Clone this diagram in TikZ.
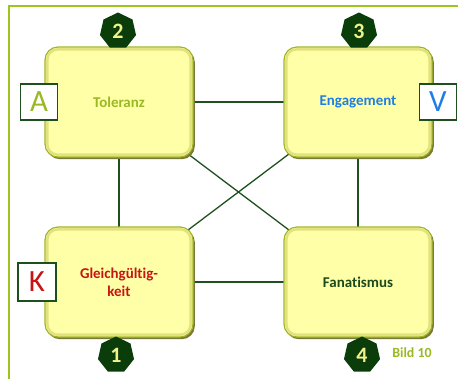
\documentclass[tikz,border=0pt]{standalone}
\usepackage{fontspec}
\setmainfont[Ligatures=NoCommon]{Carlito}
\usetikzlibrary{shapes.geometric,backgrounds,shadows}

\definecolor{framegreen}{HTML}{9EC41E}
\definecolor{linkgreen}{HTML}{1E501E}
\definecolor{panelfill}{HTML}{FFFFA8}
\definecolor{panelrim}{HTML}{A0B428}
\definecolor{panelband}{HTML}{E2E27E}
\definecolor{panelshade}{HTML}{7A7A36}
\definecolor{badgefill}{HTML}{0B3D0B}
\definecolor{badgetext}{HTML}{F2F28A}
\definecolor{olivetext}{HTML}{99B924}
\definecolor{bluetext}{HTML}{1F7DE8}
\definecolor{redtext}{HTML}{C81414}
\definecolor{darktext}{HTML}{1C4A1C}

\begin{document}
\begin{tikzpicture}[x=1bp,y=-1bp,
  frame/.style={draw=framegreen, line width=1.6bp},
  panel/.style={rectangle, rounded corners=13bp, minimum width=148bp,
    minimum height=110bp, inner sep=0pt, fill=panelfill, draw=panelrim,
    line width=1.2bp, align=center,
    font=\bfseries\fontsize{15}{18}\selectfont,
    drop shadow={shadow xshift=1.8bp, shadow yshift=-2.2bp,
      fill=panelshade, opacity=1}},
  band/.style={draw=panelband, line width=2.5bp, rounded corners=10bp},
  thinlink/.style={draw=linkgreen, line width=1.3bp},
  thicklink/.style={draw=linkgreen, line width=2.6bp},
  badge/.style={regular polygon, regular polygon sides=7, minimum size=37bp,
    inner sep=0pt, fill=badgefill, text=badgetext,
    font=\bfseries\fontsize{22}{22}\selectfont},
  tag/.style={rectangle, draw=linkgreen, fill=white, line width=1.2bp,
    minimum width=37bp, minimum height=36bp, inner sep=0pt,
    font=\fontsize{31}{31}\selectfont}
]
\useasboundingbox (0,0) rectangle (458,379);

% open frame along the left and top edges
\draw[frame] (9,379) -- (9,6) -- (458,6);

% the four attitude panels
\node[panel, text=olivetext] (tol) at (119,102) {Toleranz};
\node[panel, text=bluetext]  (eng) at (358,102) {Engagement};
\node[panel, text=redtext]   (gle) at (119,282) {Gleichgültig-\\keit};
\node[panel, text=darktext]  (fan) at (358,282) {Fanatismus};

% bevel band just inside each panel
\foreach \p in {tol,eng,gle,fan}
  \draw[band] ([shift={(3,3)}]\p.north west) rectangle ([shift={(-3,-3)}]\p.south east);

% connectors behind the panels
\begin{scope}[on background layer]
  \draw[thinlink]  (tol.center) -- (eng.center);
  \draw[thinlink]  (gle.center) -- (fan.center);
  \draw[thicklink] (tol.center) -- (gle.center);
  \draw[thicklink] (eng.center) -- (fan.center);
  \draw[thinlink]  (tol.center) -- (fan.center);
  \draw[thinlink]  (eng.center) -- (gle.center);
\end{scope}

% numbered badges
\node[badge] (b2) at (118,31)  {2};
\node[badge] (b3) at (359,31)  {3};
\node[badge] (b1) at (116,355) {1};
\node[badge] (b4) at (362,355) {4};

% letter tags
\node[tag, text=olivetext] (ta) at (39,102)  {A};
\node[tag, text=bluetext]  (tv) at (438,102) {V};
\node[tag, text=redtext, minimum width=38bp, minimum height=38bp] (tk) at (37,282) {K};

% caption
\node[text=olivetext, font=\bfseries\fontsize{14}{16}\selectfont] (cap) at (412,353) {Bild 10};
\end{tikzpicture}
\end{document}
